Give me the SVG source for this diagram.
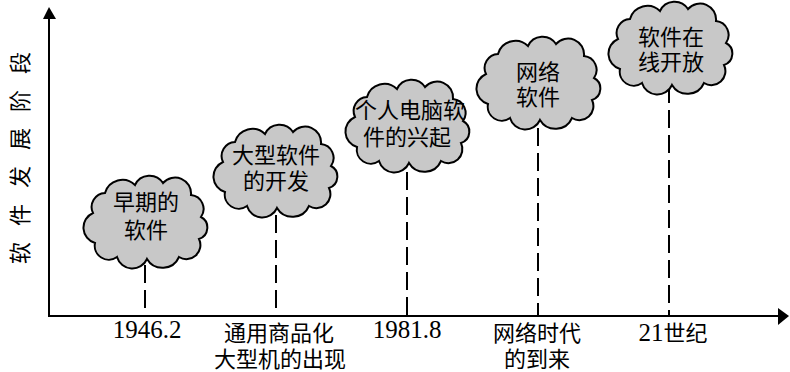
<svg xmlns="http://www.w3.org/2000/svg" width="790" height="372" viewBox="0 0 790 372">
<style>
.axis{stroke:#000;stroke-width:2;fill:none}
.dash{stroke:#000;stroke-width:2;stroke-dasharray:18 7;fill:none}
.cloud{fill:#c8c8c8;stroke:#000;stroke-width:2}
.ct{font-family:"Noto Sans CJK SC",sans-serif;font-size:22px;fill:#000;text-anchor:middle}
.lb{font-family:"Liberation Serif","Noto Sans CJK SC",serif;font-size:25px;fill:#000;text-anchor:middle}
.cj{font-family:"Noto Sans CJK SC",sans-serif;font-size:22px;fill:#000;text-anchor:middle}
</style>
<defs>
<path id="cl" d="M -52,-8 A 14 14 0 0 1 -40,-28 A 18 18 0 0 1 -10,-36 A 16 16 0 0 1 18,-38 A 16 16 0 0 1 46,-26 A 14 14 0 0 1 56,-4 A 12 12 0 0 1 54,18 A 14 14 0 0 1 34,36 A 18 18 0 0 1 2,38 A 16 16 0 0 1 -28,36 A 14 14 0 0 1 -50,22 A 16 16 0 0 1 -52,-8 Z"/>
</defs>
<g id="connectors">
<line class="axis" x1="49" y1="18" x2="49" y2="316"/>
<line class="axis" x1="48" y1="316" x2="778" y2="316"/>
<polygon points="43,19 49,7 56,19" fill="#000"/>
<polygon points="778,308 789,316 778,325" fill="#000"/>
<line class="dash" x1="145" y1="265" x2="145" y2="316"/>
<line class="dash" x1="276" y1="215" x2="276" y2="316"/>
<line class="dash" x1="407" y1="172" x2="407" y2="316"/>
<line class="dash" x1="538" y1="128" x2="538" y2="316"/>
<line class="dash" x1="669" y1="85" x2="669" y2="316"/>
</g>
<g id="ylabel">
<text class="cj" font-size="20" transform="translate(28,150) rotate(-90)" letter-spacing="16">软件发展阶段</text>
</g>
<g id="c1">
<use href="#cl" class="cloud" transform="translate(145,221)"/>
<text class="ct"><tspan x="146" y="210">早期的</tspan><tspan x="146" y="238">软件</tspan></text>
</g>
<g id="c2">
<use href="#cl" class="cloud" transform="translate(275,170)"/>
<text class="ct"><tspan x="276" y="163">大型软件</tspan><tspan x="276" y="189">的开发</tspan></text>
</g>
<g id="c3">
<use href="#cl" class="cloud" transform="translate(407,125)"/>
<text class="ct" font-size="21"><tspan x="410" y="118">个人电脑软</tspan><tspan x="407" y="145">件的兴起</tspan></text>
</g>
<g id="c4">
<use href="#cl" class="cloud" transform="translate(538,82)"/>
<text class="ct"><tspan x="538" y="80">网络</tspan><tspan x="538" y="105">软件</tspan></text>
</g>
<g id="c5">
<use href="#cl" class="cloud" transform="translate(670,47)"/>
<text class="ct"><tspan x="671" y="45">软件在</tspan><tspan x="671" y="70">线开放</tspan></text>
</g>
<g id="labels">
<text class="lb" x="147" y="338">1946.2</text>
<text class="cj"><tspan x="279" y="341">通用商品化</tspan><tspan x="280" y="367">大型机的出现</tspan></text>
<text class="lb" x="407" y="338">1981.8</text>
<text class="cj"><tspan x="537" y="341">网络时代</tspan><tspan x="537" y="367">的到来</tspan></text>
<text x="673" y="341" font-size="22" text-anchor="middle"><tspan font-family="Liberation Serif" font-size="25">21</tspan><tspan font-family="Noto Sans CJK SC">世纪</tspan></text>
</g>
</svg>
